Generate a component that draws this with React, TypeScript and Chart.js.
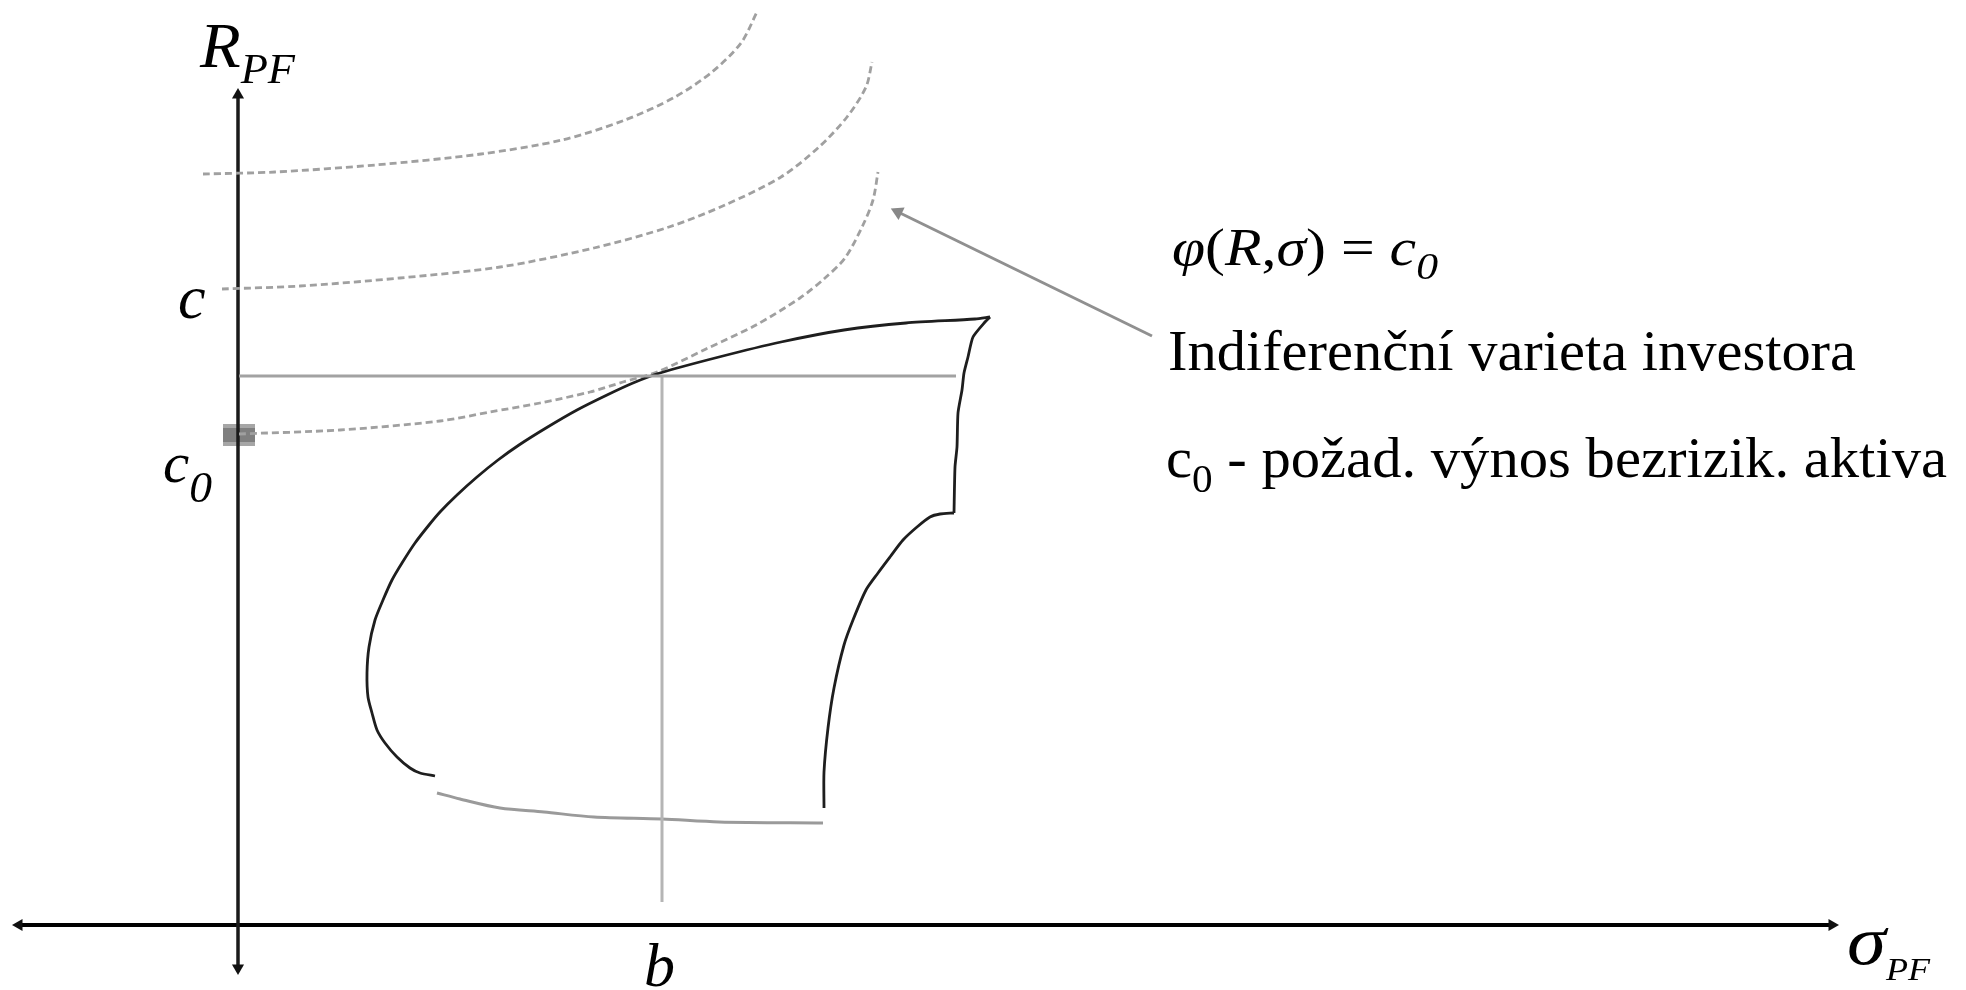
import { useEffect, useRef } from 'react';
import { Chart, registerables } from 'chart.js';

Chart.register(...registerables);

// Schematic units: x = σ_PF, y = R_PF (origin where the axes cross)
const indiffTop: number[][] = [
  [-0.35, 7.51], [0.37, 7.53], [1.37, 7.6], [2.43, 7.71], [3.24, 7.85], [3.87, 8.05],
  [4.37, 8.28], [4.74, 8.53], [5.03, 8.82], [5.19, 9.13],
];
const indiffMid: number[][] = [
  [-0.16, 6.36], [0.62, 6.39], [1.62, 6.47], [2.62, 6.58], [3.56, 6.77], [4.31, 6.98],
  [4.87, 7.2], [5.43, 7.48], [5.81, 7.78], [6.09, 8.08], [6.28, 8.38], [6.34, 8.63],
];
const indiffC0: number[][] = [
  [0.01, 4.91], [1.02, 4.95], [2.02, 5.04], [2.52, 5.13], [3.02, 5.22], [3.52, 5.33],
  [3.85, 5.43], [4.19, 5.53], [4.68, 5.76], [5.18, 6.0], [5.62, 6.27], [5.87, 6.47],
  [6.07, 6.67], [6.25, 7.0], [6.35, 7.25], [6.4, 7.53],
];
const frontierLeft: number[][] = [
  [1.97, 1.49], [1.82, 1.52], [1.72, 1.57], [1.59, 1.68], [1.47, 1.82], [1.39, 1.95],
  [1.34, 2.12], [1.3, 2.28], [1.29, 2.52], [1.31, 2.78], [1.37, 3.05], [1.45, 3.25],
  [1.54, 3.45], [1.64, 3.62], [1.77, 3.82], [1.91, 4.0], [2.02, 4.13], [2.19, 4.3],
  [2.39, 4.48], [2.6, 4.65], [2.81, 4.8], [3.08, 4.97], [3.39, 5.15], [3.69, 5.3],
  [3.95, 5.42], [4.22, 5.52], [4.81, 5.68], [5.43, 5.83], [6.06, 5.95], [6.68, 6.02],
  [7.37, 6.06], [7.52, 6.08],
];
const frontierRightUpper: number[][] = [
  [7.52, 6.08], [7.47, 6.03], [7.35, 5.88], [7.3, 5.68], [7.26, 5.52], [7.24, 5.35],
  [7.2, 5.12], [7.19, 4.78], [7.17, 4.58], [7.16, 4.12],
];
const frontierRightLower: number[][] = [
  [7.16, 4.12], [7.02, 4.11], [6.92, 4.08], [6.79, 3.98], [6.65, 3.85], [6.52, 3.68],
  [6.4, 3.52], [6.28, 3.35], [6.15, 3.05], [6.06, 2.8], [5.96, 2.37], [5.9, 1.97],
  [5.86, 1.53], [5.86, 1.17],
];
const frontierBottom: number[][] = [
  [1.99, 1.32], [2.22, 1.26], [2.62, 1.17], [3.06, 1.13], [3.56, 1.08], [4.24, 1.06],
  [4.81, 1.03], [5.85, 1.02],
];
const tangentH: number[][] = [[0.01, 5.49], [7.18, 5.49]];
const tangentV: number[][] = [[4.24, 5.49], [4.24, 0.23]];
const pointerLine: number[][] = [[9.14, 5.89], [6.6, 7.13]];
const axisY: number[][] = [[0, -0.43], [0, 8.3]];
const axisX: number[][] = [[-2.19, 0], [15.94, 0]];
const c0Point: number[][] = [[0.01, 4.9]];

const X_RANGE = [-2.38, 17.28];
const Y_RANGE = [-0.65, 9.25];

const SERIF = '"Liberation Serif", "Times New Roman", serif';

type Run = { t: string; italic?: boolean; size: number; dy?: number };
type Label = { at: number[]; w?: number; runs: Run[] };

const LABELS: Label[] = [
  { at: [-0.38, 8.58], w: 0.95, runs: [{ t: 'R', italic: true, size: 63 }, { t: 'PF', italic: true, size: 42, dy: 16 }] },
  { at: [-0.6, 6.07], runs: [{ t: 'c', italic: true, size: 62 }] },
  { at: [-0.75, 4.43], w: 0.49, runs: [{ t: 'c', italic: true, size: 57 }, { t: '0', italic: true, size: 44, dy: 20 }] },
  { at: [4.06, -0.61], runs: [{ t: 'b', italic: true, size: 62 }] },
  { at: [16.09, -0.39], w: 0.83, runs: [{ t: 'σ', italic: true, size: 70 }, { t: 'PF', italic: true, size: 32, dy: 16 }] },
  {
    at: [9.34, 6.6], w: 2.66, runs: [
      { t: 'φ', italic: true, size: 52 }, { t: '(', size: 52 }, { t: 'R', italic: true, size: 52 },
      { t: ',', size: 52 }, { t: 'σ', italic: true, size: 52 }, { t: ')', size: 52 },
      { t: ' = ', size: 52 }, { t: 'c', italic: true, size: 52 }, { t: '0', italic: true, size: 38, dy: 14 },
    ],
  },
  { at: [9.3, 5.55], w: 6.88, runs: [{ t: 'Indiferenční varieta investora', size: 57 }] },
  {
    at: [9.28, 4.48], w: 7.81, runs: [
      { t: 'c', size: 57 }, { t: '0', size: 40, dy: 15 }, { t: ' - požad. výnos bezrizik. aktiva', size: 57 },
    ],
  },
];

const fontOf = (r: Run) => `${r.italic ? 'italic ' : ''}${r.size}px ${SERIF}`;

const labelPlugin = {
  id: 'diagramLabels',
  afterDatasetsDraw(chart: any) {
    const { ctx, scales } = chart;
    const xs = scales.x;
    const ys = scales.y;
    for (const lab of LABELS) {
      const px = xs.getPixelForValue(lab.at[0]);
      const py = ys.getPixelForValue(lab.at[1]);
      ctx.save();
      ctx.fillStyle = '#000';
      ctx.textBaseline = 'alphabetic';
      ctx.textAlign = 'left';
      let natural = 0;
      for (const r of lab.runs) {
        ctx.font = fontOf(r);
        natural += ctx.measureText(r.t).width;
      }
      let sx = 1;
      if (lab.w) {
        const target = xs.getPixelForValue(lab.at[0] + lab.w) - px;
        sx = target / natural;
      }
      ctx.translate(px, py);
      ctx.scale(sx, 1);
      let cx = 0;
      for (const r of lab.runs) {
        ctx.font = fontOf(r);
        ctx.fillText(r.t, cx, r.dy || 0);
        cx += ctx.measureText(r.t).width;
      }
      ctx.restore();
    }
  },
};

const pts = (a: number[][]) => a.map(([x, y]) => ({ x, y }));

export default function App() {
  const ref = useRef<HTMLCanvasElement | null>(null);

  useEffect(() => {
    if (!ref.current) return;
    const marker = document.createElement('canvas');
    marker.width = 32;
    marker.height = 22;
    const mctx = marker.getContext('2d')!;
    mctx.fillStyle = '#a6a6a6';
    mctx.fillRect(0, 0, 32, 22);
    mctx.fillStyle = '#7f7f7f';
    mctx.fillRect(0, 4, 32, 14);

    const line = (data: number[][], color: string, width: number, extra: any = {}) => ({
      data: pts(data),
      showLine: true,
      borderColor: color,
      backgroundColor: color,
      borderWidth: width,
      pointRadius: 0,
      pointHoverRadius: 0,
      tension: 0,
      clip: false,
      ...extra,
    });
    const dashed = { borderDash: [7, 4], tension: 0.3 };

    const chart = new Chart(ref.current, {
      type: 'scatter',
      data: {
        datasets: [
          line(tangentH, '#a2a2a2', 3),
          line(tangentV, '#b5b5b5', 3),
          line(frontierLeft, '#1e1e1e', 2.8, { tension: 0.25 }),
          line(frontierRightUpper, '#1e1e1e', 2.8, { tension: 0.2 }),
          line(frontierRightLower, '#1e1e1e', 2.8, { tension: 0.25 }),
          line(frontierBottom, '#9a9a9a', 3, { tension: 0.3 }),
          line(indiffTop, '#a0a0a0', 2.8, dashed),
          line(indiffMid, '#a0a0a0', 2.8, dashed),
          line(indiffC0, '#a0a0a0', 2.8, dashed),
          line(pointerLine, '#909090', 3, {
            pointRadius: [0, 8],
            pointStyle: 'triangle',
            pointRotation: -64,
            pointBackgroundColor: '#888888',
            pointBorderWidth: 0,
          }),
          line(axisY, '#1a1a1a', 3.5, {
            pointRadius: 7,
            pointStyle: 'triangle',
            pointRotation: [180, 0],
            pointBackgroundColor: '#111',
            pointBorderWidth: 0,
          }),
          line(axisX, '#000000', 4, {
            pointRadius: 7,
            pointStyle: 'triangle',
            pointRotation: [270, 90],
            pointBackgroundColor: '#111',
            pointBorderWidth: 0,
          }),
          {
            data: pts(c0Point),
            pointStyle: marker,
            pointRadius: 11,
            clip: false,
          },
        ],
      },
      options: {
        animation: false,
        responsive: false,
        maintainAspectRatio: false,
        devicePixelRatio: 1,
        events: [],
        layout: { padding: 0, autoPadding: false },
        plugins: { legend: { display: false }, tooltip: { enabled: false }, title: { display: false } },
        scales: {
          x: { type: 'linear', min: X_RANGE[0], max: X_RANGE[1], display: false },
          y: { type: 'linear', min: Y_RANGE[0], max: Y_RANGE[1], display: false },
        },
      },
      plugins: [labelPlugin],
    } as any);
    return () => chart.destroy();
  }, []);

  return (
    <div style={{ position: 'fixed', left: 0, top: 0, width: 1966, height: 990, background: '#fff' }}>
      <canvas ref={ref} width={1966} height={990} style={{ display: 'block' }} />
    </div>
  );
}
